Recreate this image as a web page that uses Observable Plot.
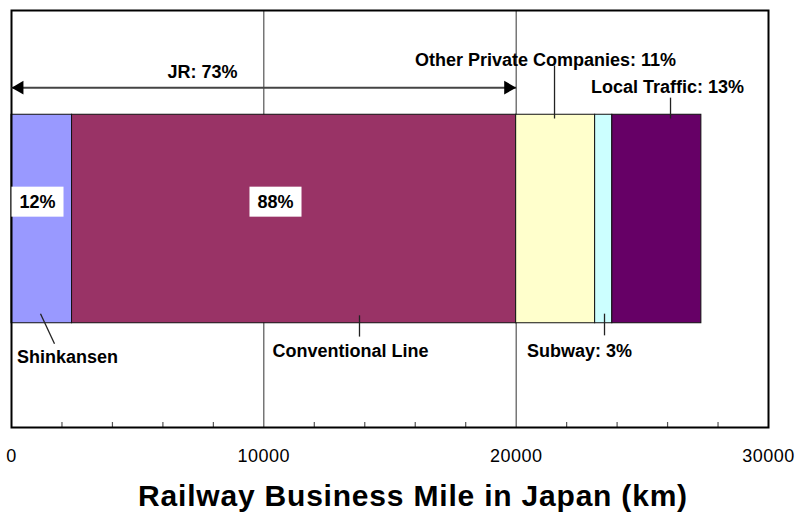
<!DOCTYPE html>
<html>
<head>
<meta charset="utf-8">
<script src="https://cdn.jsdelivr.net/npm/d3@7"></script>
<script src="https://cdn.jsdelivr.net/npm/@observablehq/plot@0.6"></script>
<style>
  html, body { margin: 0; padding: 0; background: #fff; }
  #chart svg { display: block; }
</style>
</head>
<body>
<div id="chart"></div>
<script>
// ---- data ----
const segments = ["Shinkansen", "Conventional Line", "Other Private Companies", "Subway", "Local Traffic"];
const lengthsKm = [2400, 17600, 3130, 680, 3530];
const segmentColors = ["#9999FF", "#993366", "#FFFFCC", "#CCFFFF", "#660066"];
const jrTotalKm = 20000;
const majorTicks = [0, 10000, 20000, 30000];
const minorTicks = [2000, 4000, 6000, 8000, 12000, 14000, 16000, 18000, 22000, 24000, 26000, 28000];
const gridLines = [10000, 20000];
const calloutTexts = ["JR: 73%", "Other Private Companies: 11%", "Local Traffic: 13%", "Shinkansen", "Conventional Line", "Subway: 3%"];
const jrShareTexts = ["12%", "88%"];
const axisTitle = "Railway Business Mile in Japan (km)";

// ---- layout (annotation placement, in scale units) ----
const barBand = {y1: 0.25, y2: 0.75};
const arrowY = 0.815;
const calloutPos = [
  {x: 7570, y: 0.851}, {x: 21163, y: 0.880}, {x: 25998, y: 0.815},
  {x: 2219, y: 0.168}, {x: 13435, y: 0.182}, {x: 22510, y: 0.182}
];
const leaderPos = [
  {x1: 21520, y1: 0.868, x2: 21520, y2: 0.741},
  {x1: 26117, y1: 0.791, x2: 26117, y2: 0.741},
  {x1: 1149, y1: 0.273, x2: 1704, y2: 0.201},
  {x1: 13791, y1: 0.269, x2: 13791, y2: 0.218},
  {x1: 23501, y1: 0.273, x2: 23501, y2: 0.221}
];
const sharePos = [{x: 1030, y: 0.541}, {x: 10462, y: 0.541}];

const bars = segments.map((s, i) => ({segment: s, km: lengthsKm[i]}));
const callouts = calloutTexts.map((t, i) => ({text: t, ...calloutPos[i]}));
const shares = jrShareTexts.map((t, i) => ({text: t, ...sharePos[i]}));
const arrowEnds = [{x: 0}, {x: jrTotalKm}];

const W = 800, H = 516, mL = 11, mR = 32, mT = 10, mB = 89;
const plotH = H - mT - mB;

const svg = Plot.plot({
  width: W,
  height: H,
  marginLeft: mL,
  marginRight: mR,
  marginTop: mT,
  marginBottom: mB,
  style: {fontFamily: "'Liberation Sans', Arial, sans-serif", background: "#fff", color: "#000"},
  x: {domain: [0, 30000], axis: null},
  y: {domain: [0, 1], axis: null},
  color: {domain: segments, range: segmentColors},
  marks: [
    Plot.ruleX(gridLines, {stroke: "#333", strokeWidth: 1}),
    Plot.rectX(bars, Plot.stackX({x: "km", y1: barBand.y1, y2: barBand.y2, fill: "segment", stroke: "#111", strokeWidth: 1, order: null})),
    Plot.ruleX(minorTicks, {stroke: "#555", strokeWidth: 1.2, insetTop: plotH - 5}),
    Plot.frame({stroke: "#000", strokeWidth: 2}),
    Plot.axisX(majorTicks, {tickSize: 0, tickPadding: 22, fontSize: 18, tickFormat: d => String(d), label: null}),
    // JR arrow
    Plot.link([{x1: 0, x2: jrTotalKm}], {x1: "x1", x2: "x2", y1: arrowY, y2: arrowY, stroke: "#444", strokeWidth: 2}),
    Plot.dot([arrowEnds[0]], {x: "x", y: arrowY, symbol: "triangle", r: 5.1, rotate: -90, dx: 8, fill: "#000", stroke: "none"}),
    Plot.dot([arrowEnds[1]], {x: "x", y: arrowY, symbol: "triangle", r: 5.1, rotate: 90, dx: -8, fill: "#000", stroke: "none"}),
    // leader lines
    Plot.link(leaderPos, {x1: "x1", y1: "y1", x2: "x2", y2: "y2", stroke: "#222", strokeWidth: 1.3}),
    // callout labels
    Plot.text(callouts, {x: "x", y: "y", text: "text", fontSize: 18, fontWeight: "bold", fill: "#000"}),
    // share labels on JR bars
    Plot.text(shares, {x: "x", y: "y", text: "text", fontSize: 18, fontWeight: "bold", fill: "#000"}),
    // axis title
    Plot.text([axisTitle], {frameAnchor: "bottom", lineAnchor: "middle", dy: 68.5, dx: 23, fontSize: 30, fontWeight: "bold", fill: "#000"})
  ]
});

document.getElementById("chart").append(svg);

const allTexts = Array.from(svg.querySelectorAll("text"));
// white boxes behind the share labels
allTexts.filter(t => jrShareTexts.includes(t.textContent)).forEach(t => {
  const b = t.getBBox();
  const rect = document.createElementNS("http://www.w3.org/2000/svg", "rect");
  const padX = 8, padY = 5;
  rect.setAttribute("x", b.x - padX);
  rect.setAttribute("y", b.y - padY);
  rect.setAttribute("width", b.width + 2 * padX);
  rect.setAttribute("height", b.height + 2 * padY);
  rect.setAttribute("fill", "#fff");
  rect.setAttribute("stroke", "none");
  const tr = t.getAttribute("transform");
  if (tr) rect.setAttribute("transform", tr);
  t.parentNode.insertBefore(rect, t);
});
allTexts.filter(t => t.textContent === axisTitle).forEach(t => { t.style.letterSpacing = "0.8px"; });
allTexts.filter(t => majorTicks.map(String).includes(t.textContent)).forEach(t => { t.style.letterSpacing = "0.5px"; });
</script>
</body>
</html>
